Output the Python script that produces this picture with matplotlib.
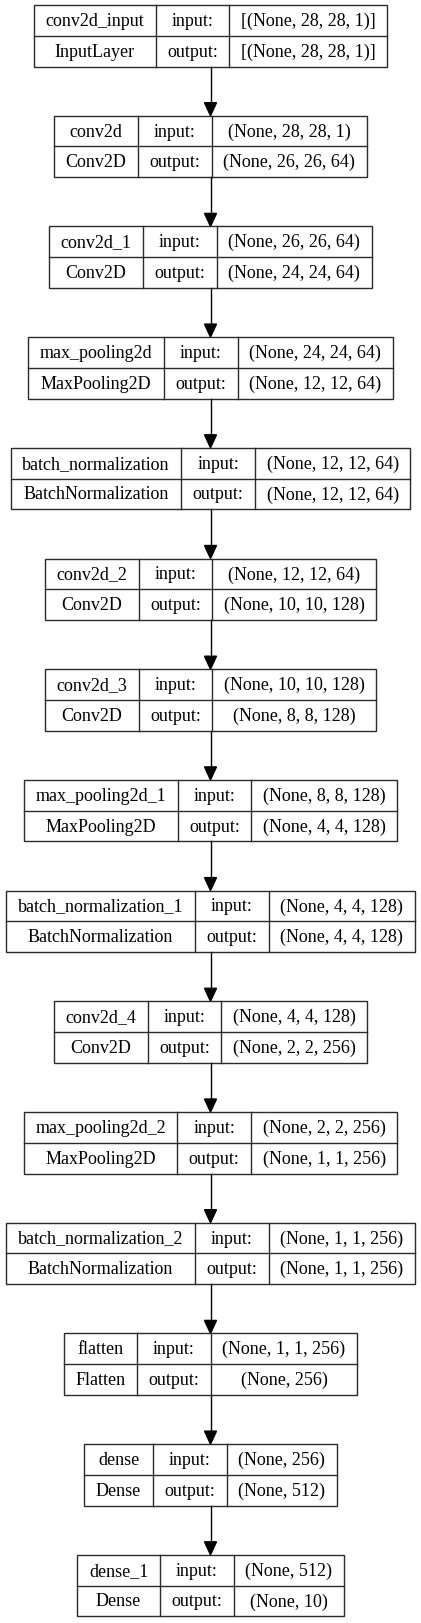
import matplotlib
matplotlib.use('Agg')
import matplotlib.pyplot as plt
from matplotlib.patches import Rectangle, Polygon

# model summary as drawn by keras plot_model
layer_names = ['conv2d_input', 'conv2d', 'conv2d_1', 'max_pooling2d',
               'batch_normalization', 'conv2d_2', 'conv2d_3',
               'max_pooling2d_1', 'batch_normalization_1', 'conv2d_4',
               'max_pooling2d_2', 'batch_normalization_2', 'flatten',
               'dense', 'dense_1']
layer_types = ['InputLayer', 'Conv2D', 'Conv2D', 'MaxPooling2D',
               'BatchNormalization', 'Conv2D', 'Conv2D', 'MaxPooling2D',
               'BatchNormalization', 'Conv2D', 'MaxPooling2D',
               'BatchNormalization', 'Flatten', 'Dense', 'Dense']
input_shapes = ['[(None, 28, 28, 1)]', '(None, 28, 28, 1)',
                '(None, 26, 26, 64)', '(None, 24, 24, 64)',
                '(None, 12, 12, 64)', '(None, 12, 12, 64)',
                '(None, 10, 10, 128)', '(None, 8, 8, 128)',
                '(None, 4, 4, 128)', '(None, 4, 4, 128)',
                '(None, 2, 2, 256)', '(None, 1, 1, 256)',
                '(None, 1, 1, 256)', '(None, 256)', '(None, 512)']
output_shapes = ['[(None, 28, 28, 1)]', '(None, 26, 26, 64)',
                 '(None, 24, 24, 64)', '(None, 12, 12, 64)',
                 '(None, 12, 12, 64)', '(None, 10, 10, 128)',
                 '(None, 8, 8, 128)', '(None, 4, 4, 128)',
                 '(None, 4, 4, 128)', '(None, 2, 2, 256)',
                 '(None, 1, 1, 256)', '(None, 1, 1, 256)',
                 '(None, 256)', '(None, 512)', '(None, 10)']

W, H = 421, 1623
fig = plt.figure(figsize=(W / 100, H / 100), dpi=100)
ax = fig.add_axes([0, 0, 1, 1])
ax.set_xlim(0, W)
ax.set_ylim(H, 0)
ax.axis('off')

font = dict(family=['Liberation Serif', 'DejaVu Serif'], size=13)
edge = '#2a2a2a'
lw = 1.0
cx = 210.5
top0 = 5.0
step = 110.7
box_h = 61.5
pad = 23.0
head_len = 13.0
head_w = 6.0

renderer = fig.canvas.get_renderer()


def text_width(s):
    t = ax.text(0, 0, s, **font)
    w = t.get_window_extent(renderer).width
    t.remove()
    return w


for i, (name, typ, ins, outs) in enumerate(zip(layer_names, layer_types,
                                                input_shapes, output_shapes)):
    cols = [[name, typ], ['input:', 'output:'], [ins, outs]]
    widths = [max(text_width(a), text_width(b)) + pad for a, b in cols]
    total = sum(widths)
    x0 = cx - total / 2
    y0 = top0 + i * step
    ax.add_patch(Rectangle((x0, y0), total, box_h, fill=False, ec=edge,
                           lw=lw))
    ax.plot([x0, x0 + total], [y0 + box_h / 2] * 2, c=edge, lw=lw)
    x = x0
    for j, (w, (a, b)) in enumerate(zip(widths, cols)):
        if j > 0:
            ax.plot([x, x], [y0, y0 + box_h], c=edge, lw=lw)
        ax.text(x + w / 2, y0 + box_h * 0.25 + 1, a, ha='center',
                va='center', color='black', **font)
        ax.text(x + w / 2, y0 + box_h * 0.75 + 1, b, ha='center',
                va='center', color='black', **font)
        x += w

    if i < len(layer_names) - 1:
        y_end = top0 + (i + 1) * step
        ax.plot([cx, cx], [y0 + box_h, y_end - head_len], c='black', lw=lw)
        ax.add_patch(Polygon([[cx - head_w, y_end - head_len],
                              [cx + head_w, y_end - head_len],
                              [cx, y_end]], closed=True, fc='black',
                             ec='black', lw=lw))

fig.savefig('out.png', dpi=100, facecolor='white')
